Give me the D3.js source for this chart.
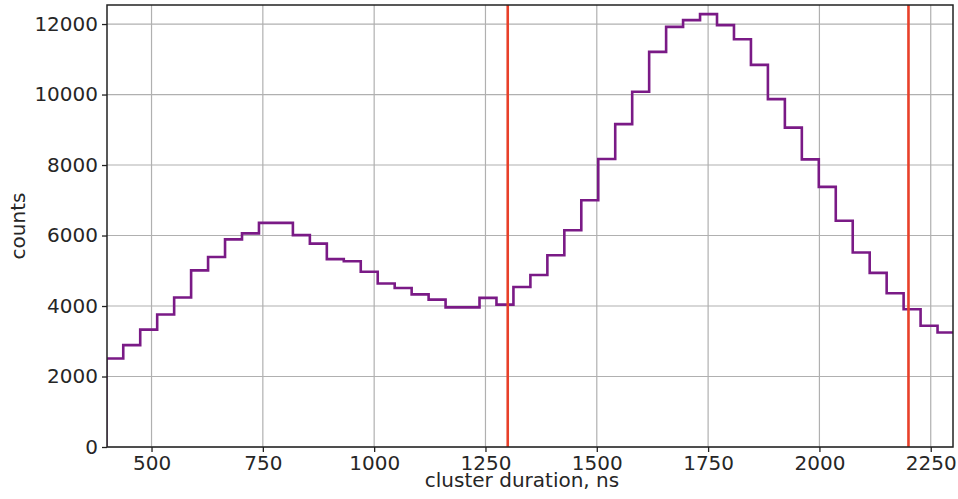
<!DOCTYPE html>
<html>
<head>
<meta charset="utf-8">
<script src="https://cdn.jsdelivr.net/npm/d3@7"></script>
<style>
  body { margin: 0; background: #fff; }
  svg { display: block; }
  .tick text { font-family: "DejaVu Sans", sans-serif; font-size: 20px; fill: #262626; }
</style>
</head>
<body>
<div id="root"></div>
<script>
// histogram of cluster durations (counts per bin)
const binStart = 398.4;
const binWidth = 38.1;
const counts = [
  2510, 2890, 3330, 3760, 4240, 5010, 5390, 5890, 6060, 6360,
  6360, 6010, 5770, 5330, 5270, 4970, 4640, 4510, 4330, 4180,
  3960, 3960, 4230, 4040, 4540, 4880, 5440, 6150, 7000, 8170,
  9160, 10080, 11210, 11920, 12110, 12280, 11970, 11570, 10840, 9870,
  9060, 8160, 7380, 6420, 5520, 4940, 4360, 3910, 3440, 3250
];
const cutLines = [1300, 2200];
const xTicks = [500, 750, 1000, 1250, 1500, 1750, 2000, 2250];
const yTicks = [0, 2000, 4000, 6000, 8000, 10000, 12000];

const W = 958, H = 499;
const margin = { top: 5, right: 5, bottom: 52, left: 107 };
const width = W - margin.left - margin.right;
const height = H - margin.top - margin.bottom;

const svg = d3.select("#root").append("svg")
  .attr("width", W)
  .attr("height", H);

const g = svg.append("g")
  .attr("transform", "translate(" + margin.left + "," + margin.top + ")");

const x = d3.scaleLinear().domain([400, 2300]).range([0, width]);
const y = d3.scaleLinear().domain([0, 12540]).range([height, 0]);

// grid
g.append("g")
  .selectAll("line.vg")
  .data(xTicks)
  .enter().append("line")
  .attr("x1", d => x(d)).attr("x2", d => x(d))
  .attr("y1", 0).attr("y2", height)
  .attr("stroke", "#b0b0b0").attr("stroke-width", 1.2);

g.append("g")
  .selectAll("line.hg")
  .data(yTicks)
  .enter().append("line")
  .attr("y1", d => y(d)).attr("y2", d => y(d))
  .attr("x1", 0).attr("x2", width)
  .attr("stroke", "#b0b0b0").attr("stroke-width", 1.2);

svg.append("clipPath").attr("id", "plot")
  .append("rect").attr("width", width).attr("height", height);

// step outline
const pts = counts.map((c, i) => ({ e: binStart + i * binWidth, c: c }));
pts.push({ e: binStart + counts.length * binWidth, c: counts[counts.length - 1] });
const outline = [{ e: binStart, c: 0 }].concat(pts).concat([{ e: pts[pts.length - 1].e, c: 0 }]);

const drawStep = d3.line()
  .x(d => x(d.e))
  .y(d => y(d.c))
  .curve(d3.curveStepAfter);

g.append("path")
  .datum(outline)
  .attr("clip-path", "url(#plot)")
  .attr("d", drawStep)
  .attr("fill", "none")
  .attr("stroke", "#7a1a86")
  .attr("stroke-width", 2.6)
  .attr("stroke-linejoin", "miter");

// cut lines
g.selectAll("line.cut")
  .data(cutLines)
  .enter().append("line")
  .attr("x1", d => x(d)).attr("x2", d => x(d))
  .attr("y1", 0).attr("y2", height)
  .attr("stroke", "#e8402a")
  .attr("stroke-width", 2.6);

// axes
const xAxis = g.append("g")
  .attr("transform", "translate(0," + height + ")")
  .call(d3.axisBottom(x).tickValues(xTicks).tickSize(5).tickPadding(4).tickFormat(d3.format("d")));

const yAxis = g.append("g")
  .call(d3.axisLeft(y).tickValues(yTicks).tickSize(5).tickPadding(4).tickFormat(d3.format("d")));

[xAxis, yAxis].forEach(a => {
  a.select(".domain").remove();
  a.selectAll(".tick line").attr("stroke", "#222").attr("stroke-width", 1.3);
});

// frame
g.append("rect")
  .attr("width", width).attr("height", height)
  .attr("fill", "none")
  .attr("stroke", "#222")
  .attr("stroke-width", 1.5);

svg.append("text")
  .attr("x", 522)
  .attr("y", 487)
  .attr("text-anchor", "middle")
  .style("font-family", "DejaVu Sans, sans-serif")
  .style("font-size", "20px")
  .attr("fill", "#262626")
  .text("cluster duration, ns");

svg.append("text")
  .attr("transform", "translate(25," + 226 + ") rotate(-90)")
  .attr("text-anchor", "middle")
  .style("font-family", "DejaVu Sans, sans-serif")
  .style("font-size", "20px")
  .attr("fill", "#262626")
  .text("counts");
</script>
</body>
</html>
